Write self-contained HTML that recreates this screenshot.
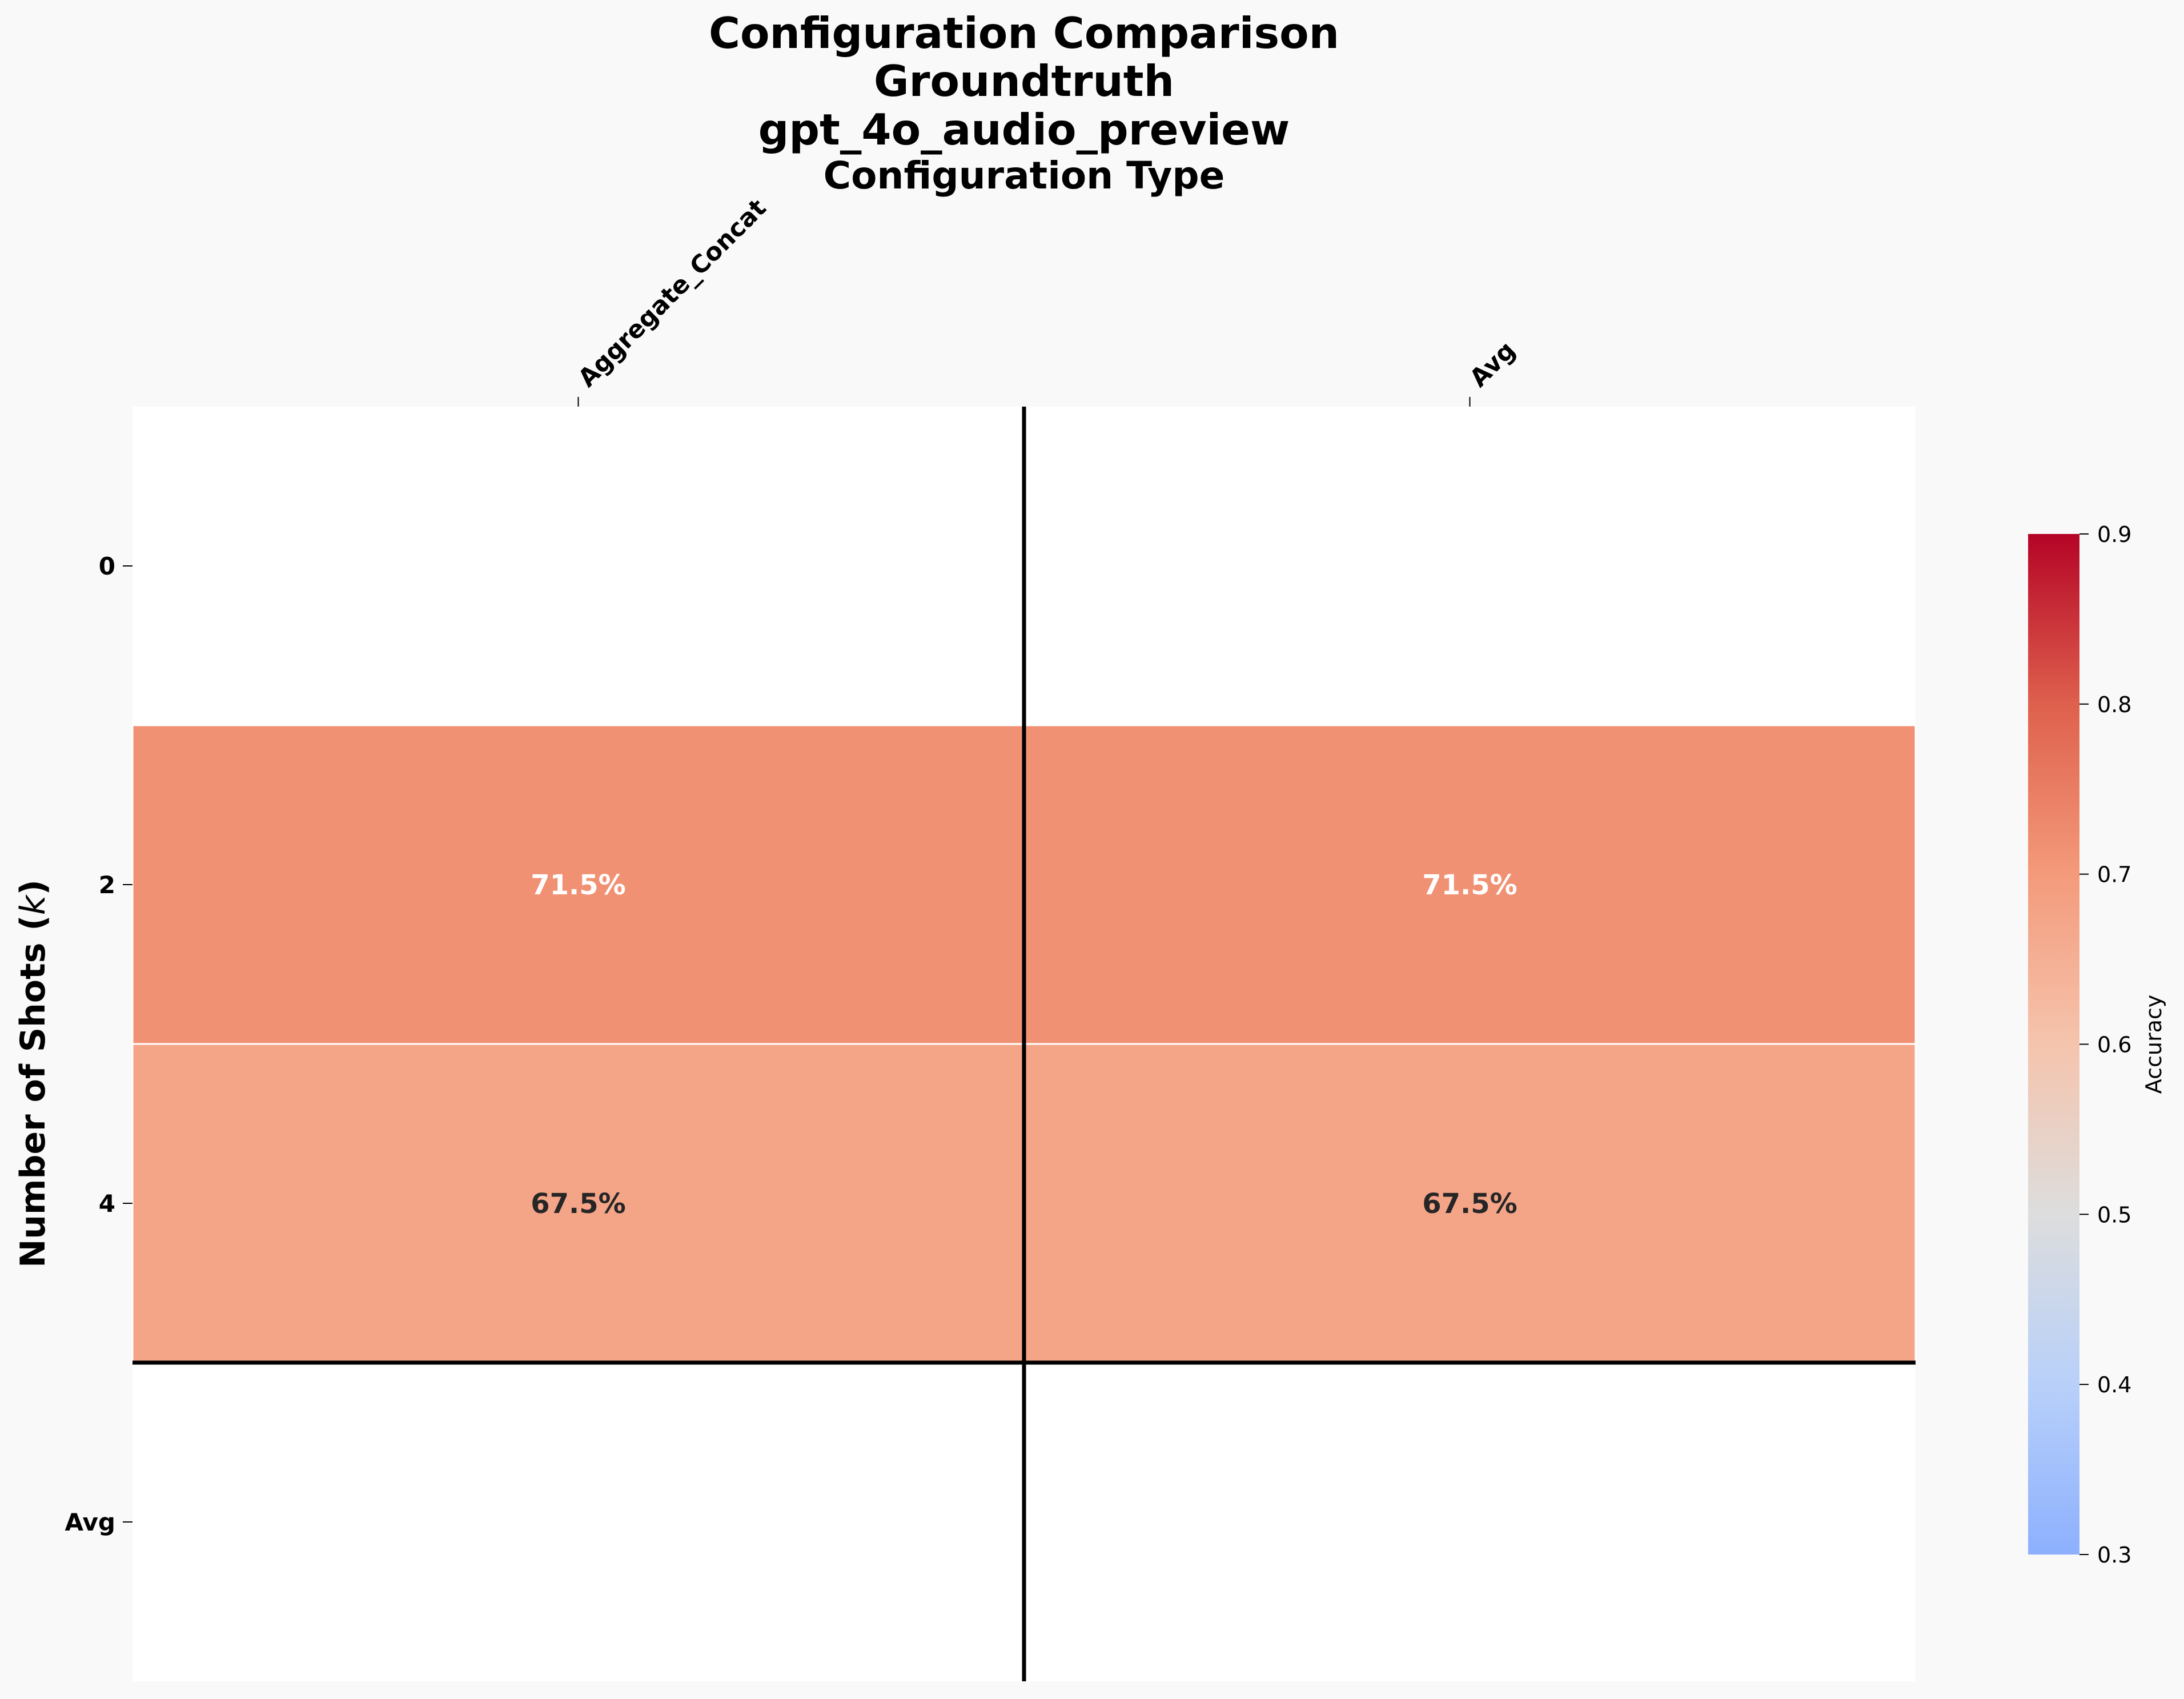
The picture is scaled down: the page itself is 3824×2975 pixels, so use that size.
<!DOCTYPE html>
<html><head><meta charset="utf-8"><style>
html,body{margin:0;padding:0;background:#f9f9f9;}
svg{display:block;font-family:"DejaVu Sans","Liberation Sans",sans-serif;}
</style></head><body>
<svg id="chart" width="3824" height="2975" viewBox="0 0 3824 2975" xmlns="http://www.w3.org/2000/svg">
<defs>
<linearGradient id="cbgrad" x1="0" y1="1" x2="0" y2="0">
<stop offset="0" stop-color="rgb(141,176,254)"/>
<stop offset="0.1667" stop-color="rgb(184,208,249)"/>
<stop offset="0.3333" stop-color="rgb(221,221,221)"/>
<stop offset="0.5" stop-color="rgb(245,196,173)"/>
<stop offset="0.6667" stop-color="rgb(244,154,123)"/>
<stop offset="0.8333" stop-color="rgb(222,96,77)"/>
<stop offset="1" stop-color="rgb(180,4,38)"/>
</linearGradient>
</defs>
<g font-weight="bold" text-anchor="middle">
<text x="1793" y="84" font-size="75">Configuration Comparison</text>
<text x="1793" y="168" font-size="75">Groundtruth</text>
<text x="1793" y="253" font-size="75">gpt_4o_audio_preview</text>
<text x="1793" y="330" font-size="66">Configuration Type</text>
</g>
<text transform="translate(78,1880) rotate(-90)" text-anchor="middle" font-size="60" font-weight="bold">Number of Shots (<tspan font-style="italic" font-weight="normal">k</tspan>)</text>
<g id="cells"></g>
<g id="labels"></g>
<g id="cbar"></g>
</svg>
<script>
const cols = ["Aggregate_Concat", "Avg"];
const rows = ["0", "2", "4", "Avg"];
const valuesAggregate = [null, 0.715, 0.675, null];
const valuesAvg = [null, 0.715, 0.675, null];
const cbTicks = [0.3, 0.4, 0.5, 0.6, 0.7, 0.8, 0.9];

const NS = "http://www.w3.org/2000/svg";
const L = 232, R = 3354, T = 712, B = 2944;
const cw = (R - L) / cols.length, rh = (B - T) / rows.length;
const xPos = i => L + cw * i;
const yPos = j => T + rh * j;
const stops = [[0,[59,76,192]],[0.125,[98,130,234]],[0.25,[141,176,254]],[0.375,[184,208,249]],[0.5,[221,221,221]],[0.625,[245,196,173]],[0.75,[244,154,123]],[0.875,[222,96,77]],[1,[180,4,38]]];
function cmap(v){
  let t = (v - 0.1) / 0.8; t = Math.max(0, Math.min(1, t));
  for (let k = 0; k < stops.length - 1; k++) {
    const a = stops[k], b = stops[k+1];
    if (t <= b[0]) { const f = (t - a[0]) / (b[0] - a[0]);
      const c = a[1].map((x, i) => Math.round(x + (b[1][i] - x) * f));
      return {css: `rgb(${c[0]},${c[1]},${c[2]})`, lum: (0.299*c[0]+0.587*c[1]+0.114*c[2])/255}; }
  }
}
function mk(tag, attrs, parent){ const e = document.createElementNS(NS, tag); for (const k in attrs) e.setAttribute(k, attrs[k]); parent.appendChild(e); return e; }
const cells = document.getElementById('cells');
const labels = document.getElementById('labels');
const series = [valuesAggregate, valuesAvg];
mk('rect', {x:L, y:T, width:R-L, height:B-T, fill:'#ffffff'}, cells);
series.forEach((vals, i) => {
  vals.forEach((v, j) => {
    if (v === null) return;
    const c = cmap(v);
    const r = mk('rect', {x:xPos(i), y:yPos(j), width:cw, height:rh, fill:c.css, stroke:'#ffffff', 'stroke-width':3}, cells);
    
    
    const t = mk('text', {x:xPos(i)+cw/2, y:yPos(j)+rh/2+17, 'text-anchor':'middle', 'font-size':48, 'font-weight':'bold', fill: c.lum > 0.7 ? '#262626' : '#ffffff'}, cells);
    t.textContent = (v*100).toFixed(1) + '%';
    
    
  });
});
const vl = mk('line', {x1:xPos(1), x2:xPos(1), y1:T, y2:B, stroke:'#000', 'stroke-width':7}, cells);


const hl = mk('line', {x1:L, x2:R, y1:yPos(3), y2:yPos(3), stroke:'#000', 'stroke-width':7}, cells);


cols.forEach((c, i) => {
  const x = xPos(i) + cw/2;
  mk('line', {x1:x, x2:x, y1:T, y2:T-17, stroke:'#000', 'stroke-width':2}, labels);
  const t = mk('text', {transform:`translate(${x+18},${T-32}) rotate(-45)`, 'font-size':43, 'font-weight':'bold'}, labels);
  t.textContent = c;
  
  
});
rows.forEach((r, j) => {
  const y = yPos(j) + rh/2;
  mk('line', {x1:L, x2:L-17, y1:y, y2:y, stroke:'#000', 'stroke-width':2}, labels);
  const t = mk('text', {x:L-30, y:y+15, 'text-anchor':'end', 'font-size':42, 'font-weight':'bold'}, labels);
  t.textContent = r;
  
  
});
const cb = document.getElementById('cbar');
const cbL = 3551, cbR = 3641, cbT = 935, cbB = 2722, vmin = 0.3, vmax = 0.9;
const cbY = v => cbB - (v - vmin) / (vmax - vmin) * (cbB - cbT);
const cr = mk('rect', {x:cbL, y:cbT, width:cbR-cbL, height:cbB-cbT, fill:'url(#cbgrad)'}, cb);


cbTicks.forEach(v => {
  const y = cbY(v);
  mk('line', {x1:cbR, x2:cbR+16, y1:y, y2:y, stroke:'#000', 'stroke-width':2}, cb);
  const t = mk('text', {x:cbR+31, y:y+14, 'font-size':38}, cb);
  t.textContent = v.toFixed(1);
  
  
});
const al = mk('text', {transform:`translate(3784,${(cbT+cbB)/2}) rotate(-90)`, 'text-anchor':'middle', 'font-size':38}, cb);
al.textContent = 'Accuracy';


</script>
</body></html>
